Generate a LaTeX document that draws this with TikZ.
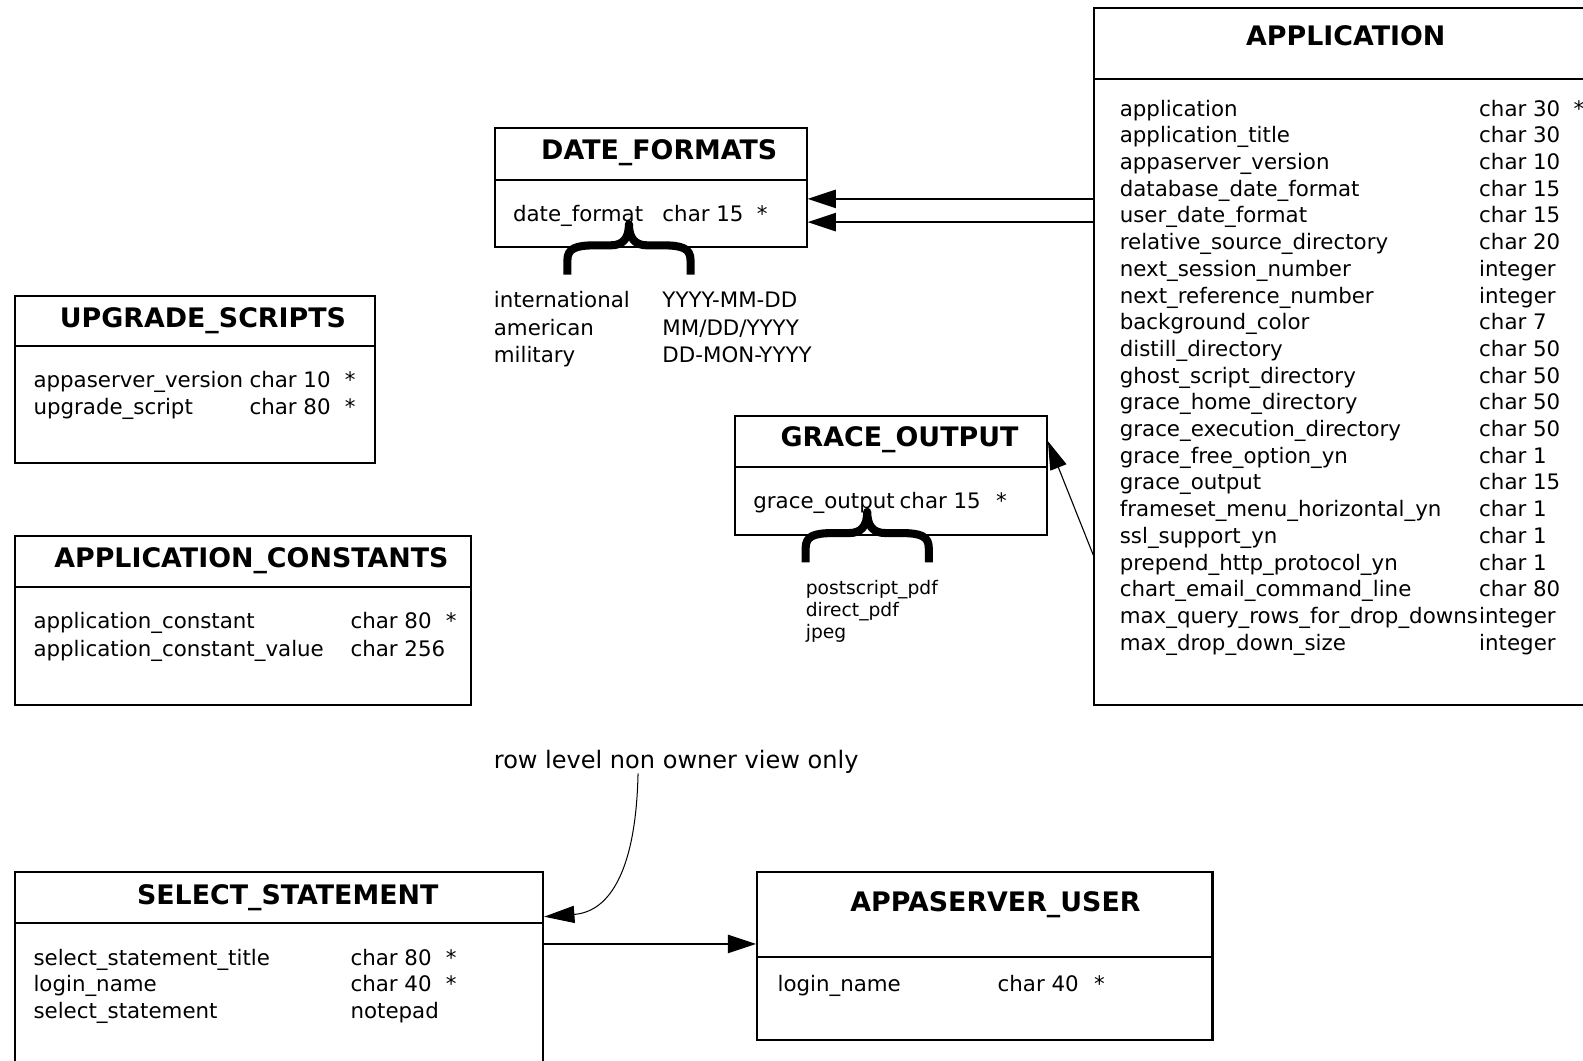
\documentclass[tikz,border=0pt]{standalone}
\usepackage{fontspec}
\setmainfont{DejaVu Sans}
\usetikzlibrary{arrows.meta,calc}
\begin{document}
\begin{tikzpicture}[x=1pt,y=-1pt,
  box/.style={draw=black,line width=2pt,rectangle,inner sep=0pt,anchor=north west},
  ttl/.style={anchor=base,inner sep=0pt,font=\fontsize{26.6}{30}\selectfont\bfseries},
  txt/.style={anchor=base west,inner sep=0pt,font=\fontsize{21.15}{25}\selectfont},
  star/.style={anchor=base,inner sep=0pt,font=\fontsize{21.15}{25}\selectfont},
  sml/.style={anchor=base west,inner sep=0pt,font=\fontsize{18.5}{22}\selectfont},
  arr/.style={-{Triangle[length=28pt,width=18pt]},line width=2pt},
  thinarr/.style={-{Triangle[length=28pt,width=17pt]},line width=1.1pt},
  bracepath/.style={line width=8pt,line cap=butt,line join=round}]
\useasboundingbox (0,0) rectangle (1568,1050);
\clip (0,0) rectangle (1568,1050);

% ---------- APPLICATION ----------
\node[box,minimum width=520pt,minimum height=690pt] (app) at (1083,7) {};
\draw[line width=2pt] (1083,78) -- (1610,78);
\node[ttl] (appt) at (1333,45.5) {APPLICATION};
\foreach \n/\t [count=\i from 0] in {
 application/char 30,
 application\_title/char 30,
 appaserver\_version/char 10,
 database\_date\_format/char 15,
 user\_date\_format/char 15,
 relative\_source\_directory/char 20,
 next\_session\_number/integer,
 next\_reference\_number/integer,
 background\_color/char 7,
 distill\_directory/char 50,
 ghost\_script\_directory/char 50,
 grace\_home\_directory/char 50,
 grace\_execution\_directory/char 50,
 grace\_free\_option\_yn/char 1,
 grace\_output/char 15,
 frameset\_menu\_horizontal\_yn/char 1,
 ssl\_support\_yn/char 1,
 prepend\_http\_protocol\_yn/char 1,
 chart\_email\_command\_line/char 80,
 max\_query\_rows\_for\_drop\_downs/integer,
 max\_drop\_down\_size/integer}{
  \node[txt] (appn\i) at (1109,115+26.45*\i) {\n};
  \node[txt] (appc\i) at (1465,115+26.45*\i) {\t};
}
\node[star] (apps) at (1564,115) {*};

% ---------- DATE_FORMATS ----------
\node[box,minimum width=309pt,minimum height=118pt] (df) at (489,126) {};
\draw[line width=2pt] (489,178) -- (798,178);
\node[ttl] (dft) at (653,157.5) {DATE\_FORMATS};
\node[txt] (dfn) at (508,219) {date\_format};
\node[txt] (dfc) at (656,219) {char 15};
\node[star] (dfs) at (755,219) {*};
\draw[bracepath] (562,272) -- (562,258) .. controls (562,246) and (570,243) .. (590,243) -- (605,243) .. controls (617,243) and (623,236) .. (623,222)
  .. controls (623,236) and (629,243) .. (641,243) -- (656,243) .. controls (676,243) and (684,246) .. (684,258) -- (684,272);
\node[txt] (f1) at (489,305) {international};
\node[txt] (f2) at (489,332) {american};
\node[txt] (f3) at (489,359) {military};
\node[txt] (g1) at (656,305) {YYYY-MM-DD};
\node[txt] (g2) at (656,332) {MM/DD/YYYY};
\node[txt] (g3) at (656,359) {DD-MON-YYYY};

% ---------- GRACE_OUTPUT ----------
\node[box,minimum width=309pt,minimum height=118pt] (go) at (727,411) {};
\draw[line width=2pt] (727,463) -- (1036,463);
\node[ttl] (got) at (891,442.5) {GRACE\_OUTPUT};
\node[txt] (gon) at (746,504) {grace\_output};
\node[txt] (goc) at (891,504) {char 15};
\node[star] (gos) at (992,504) {*};
\begin{scope}[shift={(236,285)}]
\draw[bracepath] (562,272) -- (562,258) .. controls (562,246) and (570,243) .. (590,243) -- (605,243) .. controls (617,243) and (623,236) .. (623,222)
  .. controls (623,236) and (629,243) .. (641,243) -- (656,243) .. controls (676,243) and (684,246) .. (684,258) -- (684,272);
\end{scope}
\node[sml] (o1) at (798,589) {postscript\_pdf};
\node[sml] (o2) at (798,611) {direct\_pdf};
\node[sml] (o3) at (798,632) {jpeg};

% ---------- UPGRADE_SCRIPTS ----------
\node[box,minimum width=356pt,minimum height=166pt] (us) at (14,292) {};
\draw[line width=2pt] (14,343) -- (370,343);
\node[ttl] (ust) at (201,324.5) {UPGRADE\_SCRIPTS};
\node[txt] (us1) at (33,384) {appaserver\_version};
\node[txt] (us2) at (33,411) {upgrade\_script};
\node[txt] (usc1) at (247,384) {char 10};
\node[txt] (usc2) at (247,411) {char 80};
\node[star] (uss1) at (347,384) {*};
\node[star] (uss2) at (347,411) {*};

% ---------- APPLICATION_CONSTANTS ----------
\node[box,minimum width=452pt,minimum height=167pt] (ac) at (14,530) {};
\draw[line width=2pt] (14,581) -- (466,581);
\node[ttl] (act) at (249,562.5) {APPLICATION\_CONSTANTS};
\node[txt] (ac1) at (33,623) {application\_constant};
\node[txt] (ac2) at (33,650) {application\_constant\_value};
\node[txt] (acc1) at (347,623) {char 80};
\node[txt] (acc2) at (347,650) {char 256};
\node[star] (acs1) at (447,623) {*};

% ---------- SELECT_STATEMENT ----------
\node[box,minimum width=523pt,minimum height=220pt] (ss) at (14,863) {};
\draw[line width=2pt] (14,914) -- (537,914);
\node[ttl] (sst) at (285,895.5) {SELECT\_STATEMENT};
\node[txt] (ss1) at (33,956) {select\_statement\_title};
\node[txt] (ss2) at (33,982) {login\_name};
\node[txt] (ss3) at (33,1009) {select\_statement};
\node[txt] (ssc1) at (347,956) {char 80};
\node[txt] (ssc2) at (347,982) {char 40};
\node[txt] (ssc3) at (347,1009) {notepad};
\node[star] (sss1) at (447,956) {*};
\node[star] (sss2) at (447,982) {*};

% ---------- APPASERVER_USER ----------
\node[box,minimum width=451pt,minimum height=166pt] (au) at (749,863) {};
\draw[line width=2pt] (749,948) -- (1200,948);
\node[ttl] (aut) at (986,902.5) {APPASERVER\_USER};
\node[txt] (au1) at (770,982) {login\_name};
\node[txt] (auc1) at (988,982) {char 40};
\node[star] (aus1) at (1089,982) {*};

% ---------- note ----------
\node[txt,font=\fontsize{23.8}{28}\selectfont] (note) at (489,761) {row level non owner view only};

% ---------- connectors ----------
\draw[arr] (app.west |- 0,197) -- (df.east |- 0,197);
\draw[arr] (app.west |- 0,220) -- (df.east |- 0,220);
\draw[thinarr] (app.west |- 0,550) -- (go.east |- 0,437);
\draw[-{Triangle[length=30pt,width=17pt]},line width=1pt] (note.south -| 632,0) .. controls (630,860) and (605,903) .. (ss.east |- 0,908);
\draw[arr] (ss.east |- 0,935) -- (au.west |- 0,935);
\end{tikzpicture}
\end{document}
